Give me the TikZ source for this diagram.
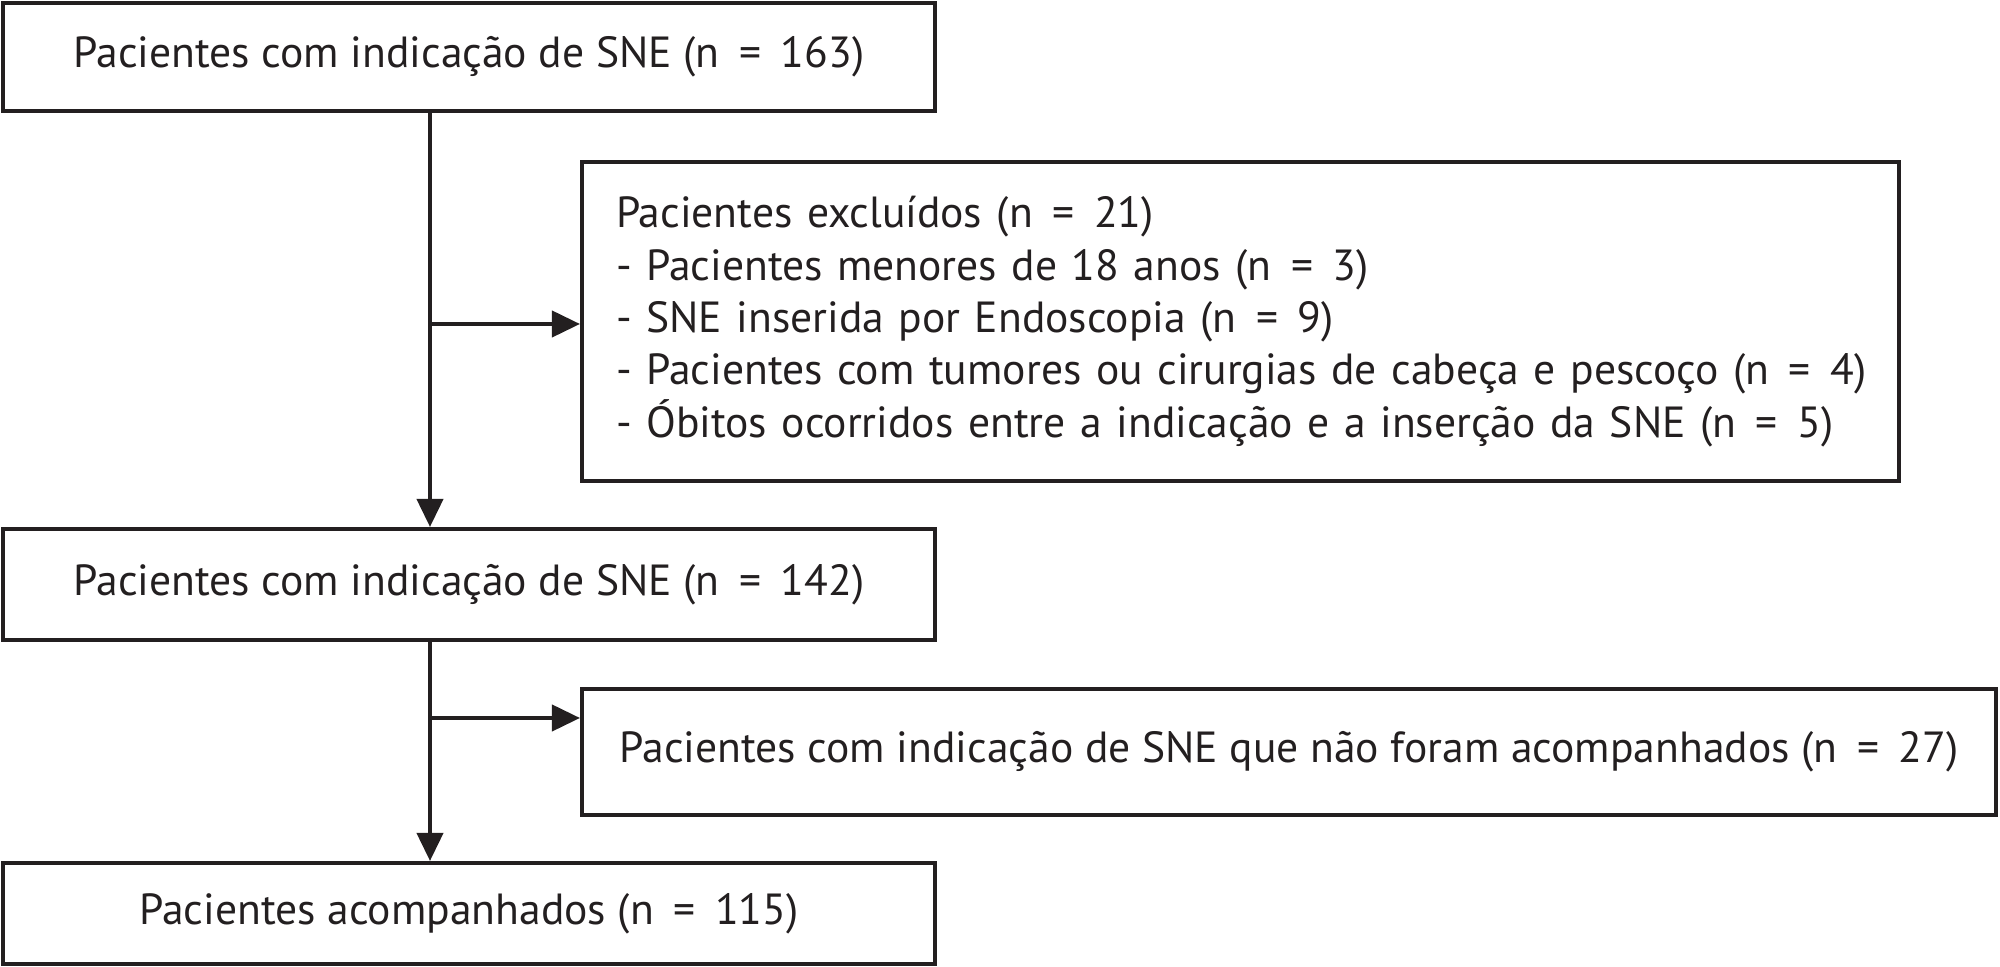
\documentclass[tikz,border=0pt]{standalone}
\usepackage{fontspec}
\setmainfont{PT Sans}
\usetikzlibrary{arrows.meta}
\definecolor{ink}{HTML}{231F20}
\newcommand\myeq{\kern0.45em=\kern0.45em}
\begin{document}
\begin{tikzpicture}[x=0.1mm,y=-0.1mm,
  box/.style={draw=ink, line width=1.15pt, rectangle, inner sep=0pt, text=ink,
    font=\fontsize{12.4}{14.9}\selectfont},
  flow/.style={draw=ink, line width=1.15pt, -{Triangle[length=2.8mm,width=2.6mm]}}]
\useasboundingbox (0,0) rectangle (2000,967);
\node[box, minimum width=93.2mm, minimum height=10.8mm] (b1) at (469,57)
  {Pacientes com indicação de SNE (n\myeq163)};
\node[box, minimum width=131.7mm, minimum height=31.9mm, align=left,
  text width=124.9mm] (b2) at (1240.5,321.5)
  {\mbox{Pacientes excluídos (n\myeq21)}\\
   \mbox{- Pacientes menores de 18 anos (n\myeq3)}\\
   \mbox{- SNE inserida por Endoscopia (n\myeq9)}\\
   \mbox{- Pacientes com tumores ou cirurgias de cabeça e pescoço (n\myeq4)}\\
   \mbox{- Óbitos ocorridos entre a indicação e a inserção da SNE (n\myeq5)}};
\node[box, minimum width=93.2mm, minimum height=11.1mm] (b3) at (469,584.5)
  {Pacientes com indicação de SNE (n\myeq142)};
\node[box, minimum width=141.4mm, minimum height=12.6mm] (b4) at (1289,752)
  {Pacientes com indicação de SNE que não foram acompanhados (n\myeq27)};
\node[box, minimum width=93.2mm, minimum height=10.1mm] (b5) at (469,913.5)
  {Pacientes acompanhados (n\myeq115)};
\coordinate (t) at (430,0);
\coordinate (j1) at (430,324);
\coordinate (j2) at (430,718);
\draw[flow] (b1.south -| t) -- (b3.north -| t);
\draw[flow] (j1) -- (j1 -| b2.west);
\draw[flow] (b3.south -| t) -- (b5.north -| t);
\draw[flow] (j2) -- (j2 -| b4.west);
\end{tikzpicture}
\end{document}
